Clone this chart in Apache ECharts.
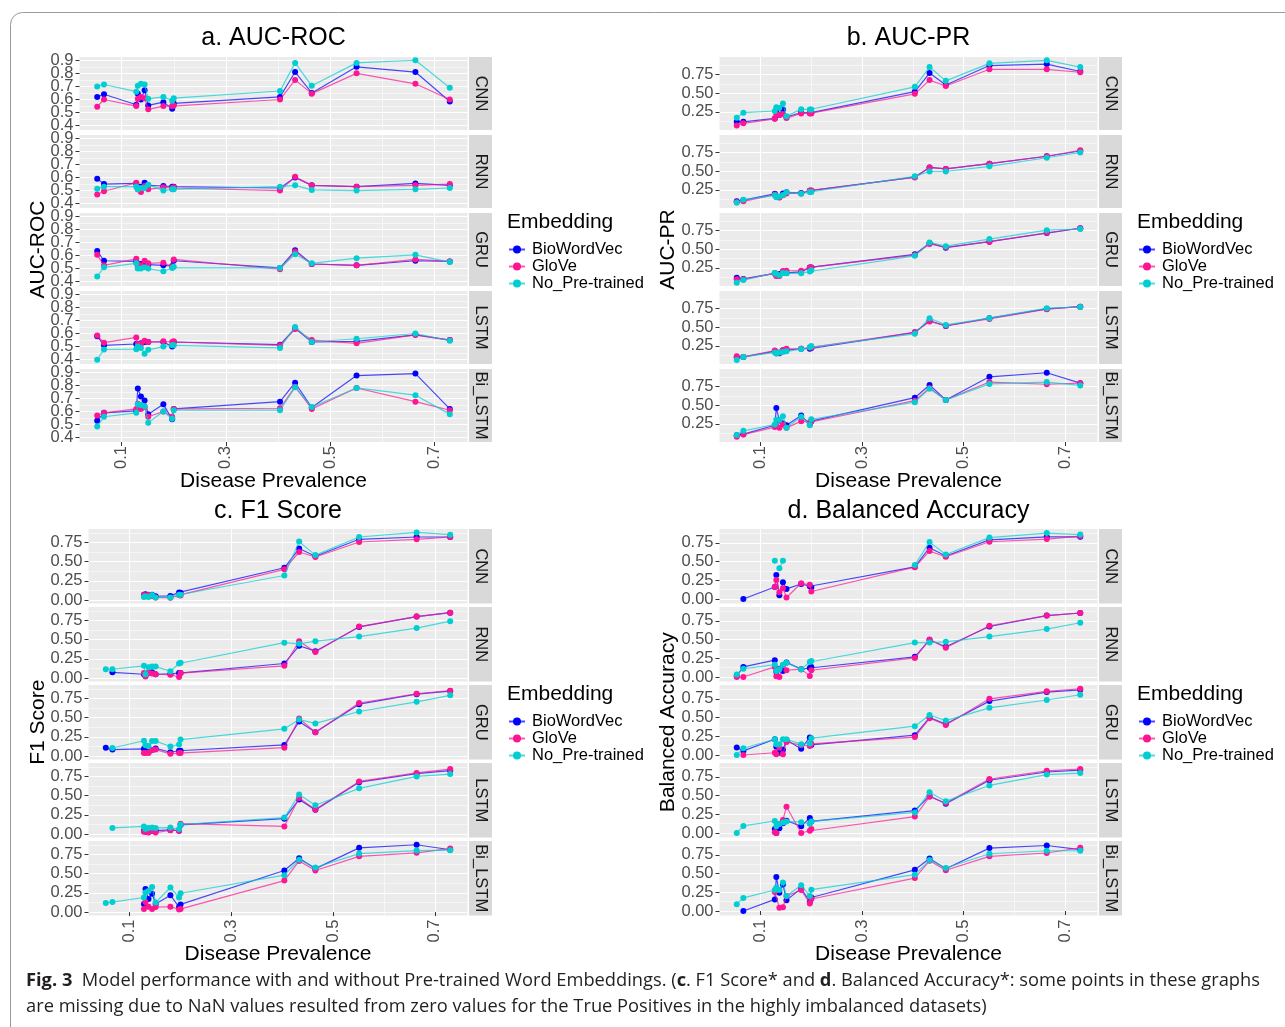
<!DOCTYPE html>
<html><head><meta charset="utf-8">
<script src="https://cdn.jsdelivr.net/npm/echarts@6/dist/echarts.min.js"></script>
<style>html,body{margin:0;padding:0;background:#fff}#c{width:1285px;height:1027px}</style>
</head><body><div id="c"></div><script>
// ---------------- DATA ----------------
const prevalence = [0.053, 0.066, 0.128, 0.131, 0.137, 0.144, 0.151, 0.180, 0.197, 0.200, 0.404, 0.433, 0.465, 0.551, 0.664, 0.730];
const models = ['CNN', 'RNN', 'GRU', 'LSTM', 'Bi_LSTM'];
const embeddings = ['BioWordVec', 'GloVe', 'No_Pre-trained'];
const xTicks = [0.1, 0.3, 0.5, 0.7];
const xMinorTicks = [0.2, 0.4, 0.6];
const rocTicks = [0.4, 0.5, 0.6, 0.7, 0.8, 0.9];
const rocMinorTicks = [0.45, 0.55, 0.65, 0.75, 0.85];
const prTicks = [0.25, 0.5, 0.75];
const prMinorTicks = [0.125, 0.375, 0.625, 0.875];
const scoreTicks = [0, 0.25, 0.5, 0.75];
const scoreMinorTicks = [0.125, 0.375, 0.625, 0.875];

// rows: BioWordVec, GloVe, No_Pre-trained (null = NaN / missing)
const roc_CNN = [
  [0.62, 0.64, 0.56, 0.645, 0.60, 0.67, 0.555, 0.58, 0.53, 0.57, 0.62, 0.81, 0.65, 0.85, 0.81, 0.585],
  [0.545, 0.60, 0.55, 0.605, 0.62, 0.61, 0.525, 0.55, 0.55, 0.555, 0.60, 0.75, 0.645, 0.80, 0.72, 0.60],
  [0.70, 0.715, 0.66, 0.705, 0.72, 0.715, 0.605, 0.62, 0.59, 0.61, 0.665, 0.88, 0.705, 0.88, 0.90, 0.69]];
const roc_RNN = [
  [0.59, 0.55, 0.555, 0.52, 0.53, 0.56, 0.54, 0.535, 0.53, 0.53, 0.52, 0.60, 0.54, 0.53, 0.555, 0.54],
  [0.47, 0.495, 0.56, 0.51, 0.49, 0.535, 0.51, 0.525, 0.52, 0.525, 0.50, 0.605, 0.54, 0.53, 0.54, 0.55],
  [0.515, 0.53, 0.53, 0.51, 0.52, 0.52, 0.545, 0.50, 0.51, 0.51, 0.53, 0.54, 0.505, 0.50, 0.51, 0.52]];
const roc_GRU = [
  [0.635, 0.56, 0.555, 0.505, 0.535, 0.545, 0.53, 0.525, 0.52, 0.56, 0.505, 0.64, 0.535, 0.525, 0.56, 0.555],
  [0.605, 0.525, 0.575, 0.53, 0.525, 0.56, 0.54, 0.545, 0.515, 0.57, 0.495, 0.63, 0.535, 0.525, 0.57, 0.555],
  [0.44, 0.51, 0.54, 0.50, 0.50, 0.51, 0.50, 0.48, 0.505, 0.515, 0.505, 0.61, 0.54, 0.58, 0.605, 0.55]];
const roc_LSTM = [
  [0.58, 0.51, 0.52, 0.52, 0.525, 0.535, 0.535, 0.535, 0.50, 0.535, 0.515, 0.64, 0.535, 0.54, 0.59, 0.55],
  [0.585, 0.53, 0.57, 0.52, 0.52, 0.545, 0.535, 0.54, 0.535, 0.54, 0.51, 0.635, 0.55, 0.525, 0.59, 0.55],
  [0.40, 0.478, 0.48, 0.50, 0.49, 0.445, 0.475, 0.50, 0.51, 0.51, 0.49, 0.65, 0.535, 0.56, 0.60, 0.545]];
const roc_BiLSTM = [
  [0.53, 0.59, 0.605, 0.775, 0.715, 0.685, 0.58, 0.655, 0.54, 0.62, 0.675, 0.82, 0.63, 0.875, 0.89, 0.62],
  [0.57, 0.59, 0.62, 0.66, 0.62, 0.635, 0.56, 0.60, 0.56, 0.62, 0.625, 0.79, 0.62, 0.78, 0.675, 0.61],
  [0.485, 0.56, 0.59, 0.655, 0.65, 0.64, 0.515, 0.60, 0.545, 0.61, 0.61, 0.785, 0.635, 0.78, 0.725, 0.58]];

const pr_CNN = [
  [0.115, 0.115, 0.16, 0.26, 0.205, 0.28, 0.18, 0.24, 0.235, 0.235, 0.52, 0.77, 0.61, 0.87, 0.89, 0.79],
  [0.067, 0.095, 0.155, 0.215, 0.205, 0.22, 0.165, 0.228, 0.228, 0.228, 0.49, 0.675, 0.595, 0.82, 0.82, 0.78],
  [0.17, 0.237, 0.26, 0.31, 0.30, 0.36, 0.19, 0.285, 0.28, 0.28, 0.585, 0.85, 0.665, 0.90, 0.94, 0.85]];
const pr_RNN = [
  [0.095, 0.11, 0.195, 0.16, 0.15, 0.20, 0.215, 0.205, 0.237, 0.237, 0.42, 0.55, 0.53, 0.60, 0.70, 0.77],
  [0.085, 0.095, 0.185, 0.155, 0.145, 0.175, 0.20, 0.20, 0.24, 0.24, 0.415, 0.55, 0.53, 0.60, 0.70, 0.78],
  [0.075, 0.115, 0.175, 0.15, 0.16, 0.18, 0.215, 0.195, 0.22, 0.22, 0.43, 0.495, 0.495, 0.565, 0.68, 0.75]];
const pr_GRU = [
  [0.115, 0.10, 0.175, 0.15, 0.165, 0.195, 0.18, 0.195, 0.255, 0.255, 0.43, 0.58, 0.52, 0.60, 0.715, 0.78],
  [0.095, 0.095, 0.175, 0.14, 0.14, 0.205, 0.21, 0.21, 0.255, 0.255, 0.42, 0.57, 0.525, 0.60, 0.72, 0.78],
  [0.05, 0.085, 0.18, 0.165, 0.15, 0.18, 0.175, 0.175, 0.20, 0.215, 0.41, 0.59, 0.54, 0.635, 0.755, 0.77]];
const pr_LSTM = [
  [0.095, 0.10, 0.175, 0.15, 0.15, 0.19, 0.19, 0.21, 0.21, 0.22, 0.43, 0.585, 0.515, 0.62, 0.745, 0.775],
  [0.11, 0.10, 0.185, 0.16, 0.16, 0.19, 0.21, 0.21, 0.225, 0.225, 0.43, 0.575, 0.52, 0.61, 0.74, 0.775],
  [0.06, 0.10, 0.16, 0.145, 0.16, 0.165, 0.175, 0.205, 0.23, 0.245, 0.41, 0.62, 0.53, 0.62, 0.755, 0.77]];
const pr_BiLSTM = [
  [0.095, 0.11, 0.23, 0.46, 0.295, 0.255, 0.23, 0.36, 0.24, 0.285, 0.60, 0.77, 0.57, 0.88, 0.935, 0.795],
  [0.075, 0.105, 0.205, 0.22, 0.195, 0.24, 0.195, 0.285, 0.27, 0.285, 0.56, 0.73, 0.57, 0.81, 0.78, 0.795],
  [0.10, 0.155, 0.24, 0.305, 0.30, 0.35, 0.195, 0.345, 0.23, 0.31, 0.54, 0.72, 0.57, 0.785, 0.81, 0.765]];

const f1_CNN = [
  [null, null, 0.07, 0.075, 0.065, 0.07, 0.05, 0.055, 0.10, 0.095, 0.42, 0.67, 0.57, 0.79, 0.82, 0.82],
  [null, null, 0.065, 0.055, 0.07, 0.055, 0.035, 0.03, 0.065, 0.06, 0.40, 0.625, 0.56, 0.755, 0.79, 0.82],
  [null, null, 0.04, 0.05, 0.04, 0.065, 0.035, 0.035, 0.07, 0.07, 0.32, 0.76, 0.585, 0.82, 0.88, 0.85]];
const f1_RNN = [
  [null, 0.075, 0.05, 0.03, 0.07, 0.075, 0.05, 0.055, 0.065, 0.065, 0.19, 0.42, 0.35, 0.665, 0.80, 0.85],
  [null, null, 0.065, 0.02, 0.07, 0.06, 0.05, 0.045, 0.015, 0.065, 0.16, 0.48, 0.34, 0.67, 0.80, 0.85],
  [0.115, 0.115, 0.16, 0.05, 0.14, 0.15, 0.15, 0.09, 0.19, 0.20, 0.46, 0.445, 0.48, 0.54, 0.65, 0.74]];
const f1_GRU = [
  [0.108, 0.085, 0.095, 0.06, 0.05, 0.08, 0.10, 0.05, 0.07, 0.07, 0.145, 0.45, 0.31, 0.675, 0.805, 0.845],
  [null, null, 0.04, 0.04, 0.04, 0.08, 0.085, 0.03, 0.04, 0.04, 0.11, 0.49, 0.31, 0.69, 0.81, 0.85],
  [null, 0.105, 0.20, 0.14, 0.13, 0.195, 0.195, 0.125, 0.15, 0.215, 0.355, 0.475, 0.425, 0.58, 0.705, 0.79]];
const f1_LSTM = [
  [null, null, 0.045, 0.03, 0.03, 0.045, 0.045, 0.055, 0.045, 0.12, 0.20, 0.45, 0.315, 0.675, 0.785, 0.825],
  [null, null, 0.03, 0.04, 0.02, 0.05, 0.02, 0.05, 0.045, 0.135, 0.10, 0.47, 0.32, 0.685, 0.795, 0.845],
  [null, 0.08, 0.10, 0.065, 0.08, 0.085, 0.08, 0.085, 0.065, 0.125, 0.215, 0.515, 0.375, 0.595, 0.75, 0.78]];
const f1_BiLSTM = [
  [null, null, 0.105, 0.30, 0.17, 0.24, 0.105, 0.22, 0.065, 0.10, 0.54, 0.70, 0.565, 0.835, 0.875, 0.81],
  [null, null, 0.04, 0.13, 0.07, 0.04, 0.065, 0.07, 0.035, 0.04, 0.41, 0.665, 0.54, 0.725, 0.77, 0.825],
  [0.12, 0.13, 0.19, 0.255, 0.275, 0.325, 0.125, 0.32, 0.19, 0.245, 0.48, 0.68, 0.58, 0.76, 0.80, 0.805]];

const ba_CNN = [
  [null, 0.0, 0.16, 0.32, 0.05, 0.225, 0.135, 0.20, 0.17, 0.155, 0.43, 0.685, 0.575, 0.79, 0.83, 0.83],
  [null, null, 0.16, 0.255, 0.09, 0.145, 0.02, 0.21, 0.19, 0.10, 0.425, 0.64, 0.565, 0.765, 0.80, 0.84],
  [null, null, 0.51, null, 0.41, 0.51, null, null, null, null, 0.455, 0.76, 0.595, 0.82, 0.88, 0.86]];
const ba_RNN = [
  [0.015, 0.135, 0.225, 0.07, 0.11, 0.08, 0.195, 0.105, 0.12, 0.135, 0.27, 0.495, 0.405, 0.675, 0.82, 0.855],
  [0.0, 0.0, 0.135, 0.01, 0.0, 0.155, 0.09, 0.105, 0.015, 0.09, 0.255, 0.50, 0.39, 0.685, 0.82, 0.855],
  [0.035, 0.11, 0.165, 0.08, 0.105, 0.165, 0.19, 0.105, 0.20, 0.215, 0.46, 0.46, 0.47, 0.54, 0.64, 0.725]];
const ba_GRU = [
  [0.10, 0.055, 0.21, 0.11, 0.03, 0.07, 0.20, 0.085, 0.235, 0.135, 0.265, 0.50, 0.415, 0.72, 0.84, 0.87],
  [null, 0.0, 0.03, 0.01, 0.10, 0.01, 0.175, 0.13, 0.12, 0.15, 0.24, 0.49, 0.40, 0.75, 0.85, 0.885],
  [0.0, 0.09, 0.21, 0.145, 0.145, 0.21, 0.21, 0.145, 0.155, 0.225, 0.385, 0.535, 0.46, 0.63, 0.735, 0.805]];
const ba_LSTM = [
  [null, null, 0.055, 0.0, 0.065, 0.13, 0.165, 0.09, 0.20, 0.155, 0.30, 0.495, 0.39, 0.705, 0.815, 0.84],
  [null, null, 0.01, 0.0, 0.125, 0.175, 0.35, 0.0, 0.03, 0.055, 0.22, 0.485, 0.40, 0.72, 0.83, 0.855],
  [0.0, 0.095, 0.16, 0.09, 0.12, 0.14, 0.155, 0.145, 0.125, 0.155, 0.275, 0.545, 0.425, 0.635, 0.78, 0.80]];
const ba_BiLSTM = [
  [null, 0.0, 0.155, 0.455, 0.245, 0.355, 0.145, 0.30, 0.125, 0.18, 0.55, 0.70, 0.565, 0.84, 0.875, 0.82],
  [null, null, 0.255, 0.28, 0.045, 0.05, 0.20, 0.28, 0.10, 0.16, 0.44, 0.67, 0.545, 0.73, 0.775, 0.845],
  [0.09, 0.175, 0.28, 0.31, 0.28, 0.38, 0.20, 0.345, 0.20, 0.285, 0.485, 0.68, 0.575, 0.765, 0.805, 0.805]];

// ---------------- LAYOUT / STYLE ----------------
const FONT = '"Liberation Sans", Arial, sans-serif';
const COLORS = ['#0000FF', '#FF1493', '#00CED1'];
const X_MIN = 0.019, X_MAX = 0.764;

const panels = [
  {title: 'a. AUC-ROC', ytitle: 'AUC-ROC', yMin: 0.367, yMax: 0.925, ticks: rocTicks, minor: rocMinorTicks, dec: 1, split: true,
   facets: [roc_CNN, roc_RNN, roc_GRU, roc_LSTM, roc_BiLSTM],
   L: {left: 79.5, right: 467.5, tops: [57, 135, 213, 291, 369], h: 73, titleX: 273.5, titleY: 38, xTitleY: 481, yTitleX: 38, legendX: 508, legendTitleY: 222, legendTop: 241}},
  {title: 'b. AUC-PR', ytitle: 'AUC-PR', yMin: 0.005, yMax: 0.985, ticks: prTicks, minor: prMinorTicks, dec: 2, split: false,
   facets: [pr_CNN, pr_RNN, pr_GRU, pr_LSTM, pr_BiLSTM],
   L: {left: 719.5, right: 1097.5, tops: [57, 135, 213, 291, 369], h: 73, titleX: 908.5, titleY: 38, xTitleY: 481, yTitleX: 668, legendX: 1138, legendTitleY: 222, legendTop: 241}},
  {title: 'c. F1 Score', ytitle: 'F1 Score', yMin: -0.044, yMax: 0.924, ticks: scoreTicks, minor: scoreMinorTicks, dec: 2, split: false,
   facets: [f1_CNN, f1_RNN, f1_GRU, f1_LSTM, f1_BiLSTM],
   L: {left: 88.5, right: 467.5, tops: [529, 607, 685, 763, 841], h: 74.5, titleX: 278, titleY: 511, xTitleY: 954, yTitleX: 38, legendX: 508, legendTitleY: 694, legendTop: 713}},
  {title: 'd. Balanced Accuracy', ytitle: 'Balanced Accuracy', yMin: -0.06, yMax: 0.935, ticks: scoreTicks, minor: scoreMinorTicks, dec: 2, split: false,
   facets: [ba_CNN, ba_RNN, ba_GRU, ba_LSTM, ba_BiLSTM],
   L: {left: 719.5, right: 1097.5, tops: [529, 607, 685, 763, 841], h: 74.5, titleX: 908.5, titleY: 511, xTitleY: 954, yTitleX: 668, legendX: 1138, legendTitleY: 694, legendTop: 713}}
];

const grid = [], xAxis = [], yAxis = [], series = [], graphic = [], legend = [];

function txt(x, y, text, size, opts) {
  opts = opts || {};
  return {type: 'text', x: x, y: y, rotation: opts.rot || 0, z: 100, silent: true,
    style: {text: text, font: (opts.weight || 'normal') + ' ' + size + 'px ' + (opts.family || FONT),
      fill: opts.fill || '#000', align: opts.align || 'center', verticalAlign: 'middle',
      textAlign: opts.align || 'center', textVerticalAlign: 'middle'}};
}

panels.forEach((P, pi) => {
  const L = P.L;
  // when labels are closer than their height, spread them over two axes so none is dropped
  const labelsMain = P.split ? P.ticks.filter((v, i) => i % 2 === 0) : P.ticks;
  const labelsAlt = P.split ? P.ticks.filter((v, i) => i % 2 === 1) : [];
  const yLabelStyle = {fontSize: 16.5, fontFamily: FONT, color: '#4D4D4D', margin: 6,
    showMinLabel: true, showMaxLabel: true, hideOverlap: false, formatter: v => v.toFixed(P.dec)};
  P.facets.forEach((facet, fi) => {
    const g = grid.length;
    const isBottom = fi === models.length - 1;
    grid.push({left: L.left, top: L.tops[fi], width: L.right - L.left, height: L.h,
      show: true, backgroundColor: '#EBEBEB', borderWidth: 0, containLabel: false});
    // major x
    xAxis.push({type: 'value', gridIndex: g, min: X_MIN, max: X_MAX, position: 'bottom',
      axisLine: {show: false},
      axisTick: {show: isBottom, customValues: xTicks, length: 4, lineStyle: {color: '#333333', width: 1}},
      axisLabel: {show: isBottom, customValues: xTicks, rotate: 90, fontSize: 16.5, fontFamily: FONT, color: '#4D4D4D', margin: 4,
        showMinLabel: true, showMaxLabel: true, formatter: v => v.toFixed(1)},
      splitLine: {show: true, lineStyle: {color: '#FFFFFF', width: 1.1}}});
    // minor x
    xAxis.push({type: 'value', gridIndex: g, min: X_MIN, max: X_MAX, position: 'top',
      axisLine: {show: false}, axisTick: {show: false, customValues: xMinorTicks}, axisLabel: {show: false, customValues: xMinorTicks},
      splitLine: {show: true, lineStyle: {color: '#FFFFFF', width: 0.55}}});
    // major y
    yAxis.push({type: 'value', gridIndex: g, min: P.yMin, max: P.yMax, position: 'left',
      axisLine: {show: false},
      axisTick: {show: true, customValues: P.ticks, length: 4, lineStyle: {color: '#333333', width: 1}},
      axisLabel: Object.assign({show: true, customValues: labelsMain}, yLabelStyle),
      splitLine: {show: true, lineStyle: {color: '#FFFFFF', width: 1.1}}});
    // minor y (also carries the alternate labels when split)
    yAxis.push({type: 'value', gridIndex: g, min: P.yMin, max: P.yMax, position: P.split ? 'left' : 'right', offset: 0,
      axisLine: {show: false}, axisTick: {show: false, customValues: P.minor},
      axisLabel: P.split ? Object.assign({show: true, customValues: labelsAlt}, yLabelStyle)
                         : {show: false, customValues: P.minor},
      splitLine: {show: true, lineStyle: {color: '#FFFFFF', width: 0.55}}});

    facet.forEach((vals, ei) => {
      series.push({type: 'line', name: embeddings[ei], xAxisIndex: 2 * g, yAxisIndex: 2 * g,
        data: prevalence.map((p, i) => [p, vals[i] === null ? '-' : vals[i]]),
        connectNulls: false, symbol: 'circle', symbolSize: 6, showSymbol: true, showAllSymbol: true,
        itemStyle: {color: COLORS[ei]}, lineStyle: {color: COLORS[ei], width: 1.2, opacity: 0.7},
        emphasis: {disabled: true}, animation: false, z: 3 + ei});
    });

    // facet strip
    const sx = L.right + 1.5, sw = 23;
    graphic.push({type: 'rect', z: 50, silent: true, shape: {x: sx, y: L.tops[fi], width: sw, height: L.h},
      style: {fill: '#D9D9D9'}});
    graphic.push(txt(sx + sw / 2, L.tops[fi] + L.h / 2, models[fi], 16.5, {rot: -Math.PI / 2, fill: '#1A1A1A'}));
  });

  const yMid = (L.tops[0] + L.tops[4] + L.h) / 2;
  graphic.push(txt(L.titleX, L.titleY, P.title, 25));
  graphic.push(txt(L.titleX, L.xTitleY, 'Disease Prevalence', 21));
  graphic.push(txt(L.yTitleX, yMid, P.ytitle, 21, {rot: Math.PI / 2}));
  graphic.push(txt(L.legendX - 1, L.legendTitleY, 'Embedding', 21, {align: 'left'}));
  legend.push({left: L.legendX, top: L.legendTop, orient: 'vertical', itemGap: 0, itemWidth: 16, itemHeight: 10,
    padding: 0, selectedMode: false, data: embeddings,
    textStyle: {fontSize: 16.5, fontFamily: FONT, color: '#000', lineHeight: 16, padding: [0, 0, 0, 2]}});
});

// border + caption
graphic.push({type: 'rect', z: 1, silent: true, shape: {x: 10.5, y: 12.5, width: 1300, height: 1040, r: 12},
  style: {fill: 'none', stroke: '#9A9A9A', lineWidth: 1}});
graphic.push({type: 'text', x: 26, y: 968, z: 100, silent: true,
  style: {text: '{b|Fig. 3}  Model performance with and without Pre-trained Word Embeddings. ({b|c}. F1 Score* and {b|d}. Balanced Accuracy*: some points in these graphs\nare missing due to NaN values resulted from zero values for the True Positives in the highly imbalanced datasets)',
    font: '18.3px "Open Sans", sans-serif', fill: '#231F20', lineHeight: 26, verticalAlign: 'top', textVerticalAlign: 'top',
    rich: {b: {fontWeight: 'bold', fontSize: 18.3, fontFamily: '"Open Sans", sans-serif', fill: '#231F20', lineHeight: 26}}}});

const chart = echarts.init(document.getElementById('c'), null, {renderer: 'canvas'});
chart.setOption({animation: false, backgroundColor: '#FFFFFF', grid, xAxis, yAxis, series, legend, graphic});
</script></body></html>
